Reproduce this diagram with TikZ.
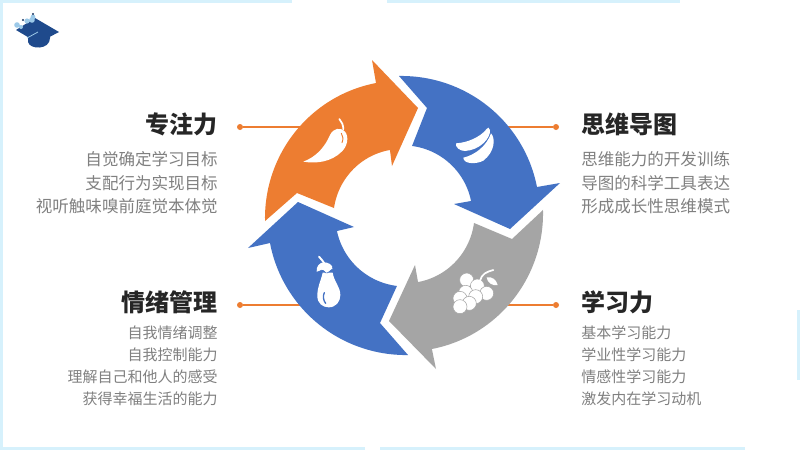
\documentclass[tikz,border=0pt]{standalone}
\usepackage{fontspec}
\setmainfont{Noto Sans CJK SC}
\definecolor{oran}{HTML}{ED7D31}
\definecolor{blu}{HTML}{4472C4}
\definecolor{gry}{HTML}{A5A5A5}
\definecolor{strip}{HTML}{D6F1FC}
\definecolor{capblue}{HTML}{1F4A8C}
\definecolor{capsky}{HTML}{9CC9E8}
\newcommand{\spir}[4]{-- plot[domain=#1:#2,samples=48] ({404+(#3+(#4-#3)*(\x-(#1))/((#2)-(#1)))*cos(\x)},{215.5-(#3+(#4-#3)*(\x-(#1))/((#2)-(#1)))*sin(\x)})}
\tikzset{
  head/.style={inner sep=0pt,font=\fontsize{18}{20}\selectfont\bfseries,text=black!85},
  body/.style={inner sep=0pt,font=\fontsize{12.4}{14}\selectfont,text=black!50},
  bodysmall/.style={inner sep=0pt,font=\fontsize{11.25}{13}\selectfont,text=black!50},
  dotnode/.style={circle,fill=oran,inner sep=0pt,minimum size=4.5pt},
  link/.style={draw=oran,line width=1.1pt},
  icon/.style={fill=white,draw=none},
}
\begin{document}
\begin{tikzpicture}[x=.75pt,y=-.75pt]
\useasboundingbox (0,0) rectangle (800,450);
\fill[white] (0,0) rectangle (800,450);
% border strips
\fill[strip] (0,0) rectangle (292,3);
\fill[strip] (387,0) rectangle (680,3);
\fill[strip] (0,0) rectangle (3,450);
\fill[strip] (0,447) rectangle (365,450);
\fill[strip] (380,447) rectangle (745,450);
\fill[strip] (797,310) rectangle (800,380);
% logo
\fill[capblue] (28,36) -- (28,42) .. controls (30,50) and (50,50) .. (50,38) -- (50,32) -- cycle;
\fill[capblue] (16,30) -- (35,18) -- (59,32) -- (38,43) -- cycle;
\draw[capsky,line width=.6pt] (27,38) -- (38,32);
\fill[capsky] (17,25) circle (2.8) (21,27) circle (2) (27,21) circle (2.6) (32,20) circle (2.8) (33,17) circle (2.4);
\fill[capblue!70!black] (23,20) circle (1.2) (33,14) circle (1.2);
% connectors
\node[dotnode] (dtl) at (240,127) {};
\node[dotnode] (dtr) at (556,127) {};
\node[dotnode] (dbl) at (240,305) {};
\node[dotnode] (dbr) at (556,305) {};
\coordinate (ctl) at (300,127);
\coordinate (ctr) at (508,127);
\coordinate (cbl) at (300,305);
\coordinate (cbr) at (506,305);
\draw[link] (dtl) -- (ctl);
\draw[link] (dtr) -- (ctr);
\draw[link] (dbl) -- (cbl);
\draw[link] (dbr) -- (cbr);
% arrows
\fill[oran] (418,108) -- (372,60) -- (376,83) \spir{101.9}{182.3}{135.4}{139.1} -- (297,193) -- (334,208) \spir{173.9}{102.1}{70.4}{67} -- (392,166) -- cycle;
\fill[blu] (427,108) -- (399,76) \spir{92.05}{12.1}{139.6}{136} -- (560,183) -- (510,229) -- (454,204) -- (471,201) \spir{12.2}{83.4}{68.6}{70} -- cycle;
\fill[gry] (512,239) -- (543,210) \spir{2.3}{-78.2}{139.1}{136.4} -- (436,369) -- (389,321) -- (415,265) -- (418,282) \spir{-78.1}{-6.1}{68}{70.4} -- cycle;
\fill[blu] (380,323) -- (408,355) \spir{271.6}{191.6}{139.6}{136.8} -- (248,248) -- (298,202) -- (354,227) -- (337,231) \spir{193}{264.3}{68.8}{70.8} -- cycle;
% icons (drawn in 3x crop coordinates)
\begin{scope}[x=.25pt,y=-.25pt,shift={(690,150)}]
 % chili
 \fill[icon] (220,335) .. controls (260,320) and (285,290) .. (300,255) .. controls (310,235) and (330,230) .. (345,245) .. controls (358,260) and (352,290) .. (335,305) .. controls (305,335) and (260,342) .. (220,335) -- cycle;
 \draw[white,line width=1.3pt,line cap=round] (340,238) .. controls (340,225) and (335,215) .. (328,207);
 \draw[oran,line width=.7pt,line cap=round] (334,250) .. controls (340,258) and (340,268) .. (336,278);
 % bananas
 \fill[icon] (678,280) .. controls (712,278) and (750,262) .. (770,237) -- (775,233) -- (780,240) .. controls (782,265) and (750,300) .. (705,303) .. controls (690,303) and (675,292) .. (678,280) -- cycle;
 \fill[icon] (700,323) .. controls (735,315) and (770,288) .. (783,250) .. controls (797,265) and (795,305) .. (760,332) .. controls (740,343) and (700,343) .. (700,323) -- cycle;
 % grapes
 \foreach \p in {(710,690),(742,708),(770,730),(707,727),(737,740),(690,745),(718,760),(690,770)}
   \fill[icon,draw=gry,line width=.4pt] \p circle (21);
 \draw[white,line width=1.3pt,line cap=round] (750,692) .. controls (755,672) and (770,665) .. (790,660);
 \fill[icon] (770,682) .. controls (785,678) and (800,690) .. (803,705) .. controls (788,708) and (772,700) .. (770,682) -- cycle;
 % eggplant
 \fill[icon] (278,668) .. controls (272,695) and (262,710) .. (262,738) .. controls (262,760) and (278,772) .. (296,772) .. controls (318,772) and (331,755) .. (331,735) .. controls (331,710) and (312,695) .. (308,668) -- cycle;
 \fill[icon] (260,665) .. controls (258,648) and (270,637) .. (282,637) .. controls (295,637) and (310,645) .. (307,657) -- (290,672) -- (280,660) -- cycle;
 \draw[blu,line width=.5pt] (264,667) .. controls (272,660) and (280,658) .. (283,664) .. controls (287,674) and (296,668) .. (306,658);
 \draw[white,line width=1.4pt,line cap=round] (267,620) .. controls (272,628) and (280,632) .. (283,640);
 \draw[blu,line width=1pt,line cap=round] (283,728) .. controls (278,738) and (280,752) .. (287,760);
\end{scope}
% texts left
\node[head,anchor=east] (h1) at (218,124) {专注力};
\node[body,anchor=east] (t11) at (218,159) {自觉确定学习目标};
\node[body,anchor=east] (t12) at (218,183) {支配行为实现目标};
\node[body,anchor=east] (t13) at (218,206) {视听触味嗅前庭觉本体觉};
\node[head,anchor=east] (h4) at (218,302) {情绪管理};
\node[bodysmall,anchor=east] (t41) at (218,333) {自我情绪调整};
\node[bodysmall,anchor=east] (t42) at (218,355) {自我控制能力};
\node[bodysmall,anchor=east] (t43) at (218,377) {理解自己和他人的感受};
\node[bodysmall,anchor=east] (t44) at (218,399) {获得幸福生活的能力};
% texts right
\node[head,anchor=west] (h2) at (581,124) {思维导图};
\node[body,anchor=west] (t21) at (581,159) {思维能力的开发训练};
\node[body,anchor=west] (t22) at (581,183) {导图的科学工具表达};
\node[body,anchor=west] (t23) at (581,206) {形成成长性思维模式};
\node[head,anchor=west] (h3) at (581,302) {学习力};
\node[bodysmall,anchor=west] (t31) at (581,333) {基本学习能力};
\node[bodysmall,anchor=west] (t32) at (581,355) {学业性学习能力};
\node[bodysmall,anchor=west] (t33) at (581,377) {情感性学习能力};
\node[bodysmall,anchor=west] (t34) at (581,399) {激发内在学习动机};
\end{tikzpicture}
\end{document}
